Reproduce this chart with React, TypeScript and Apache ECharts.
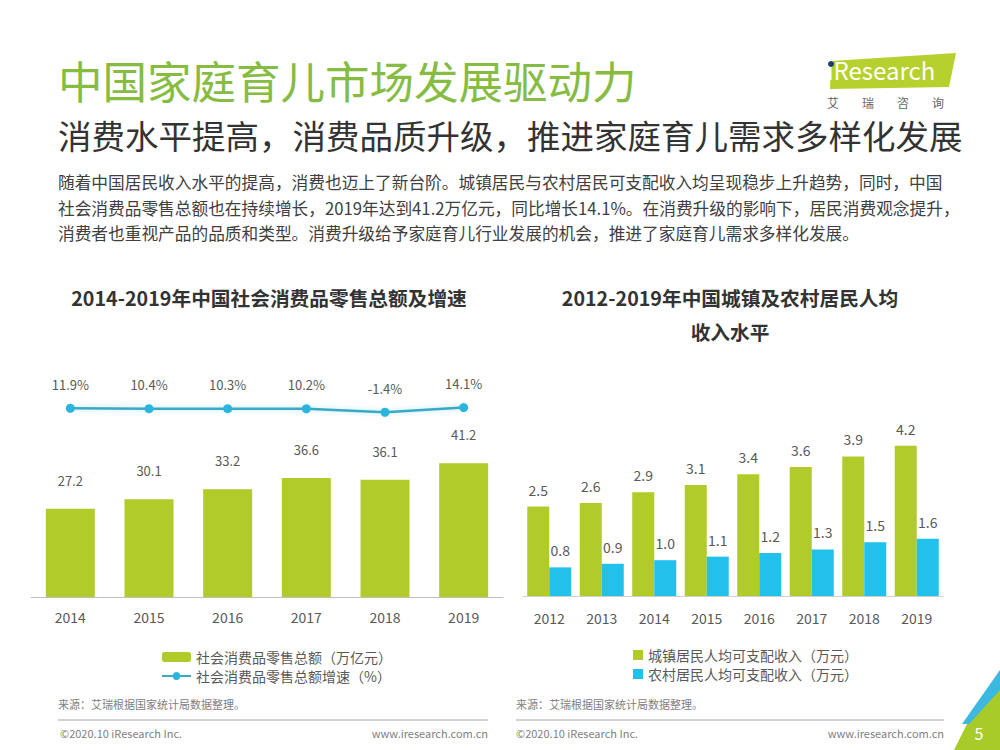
import React, { useEffect, useRef } from "react";
import * as echarts from "echarts";

const leftYears = ["2014", "2015", "2016", "2017", "2018", "2019"];
const retailTotal = [27.2, 30.1, 33.2, 36.6, 36.1, 41.2];
const retailGrowth = [11.9, 10.4, 10.3, 10.2, -1.4, 14.1];

const rightYears = ["2012", "2013", "2014", "2015", "2016", "2017", "2018", "2019"];
const urbanIncome = [2.5, 2.6, 2.9, 3.1, 3.4, 3.6, 3.9, 4.2];
const ruralIncome = [0.8, 0.9, 1.0, 1.1, 1.2, 1.3, 1.5, 1.6];

const seriesNames = [
  "社会消费品零售总额（万亿元）",
  "社会消费品零售总额增速（%）",
  "城镇居民人均可支配收入（万元）",
  "农村居民人均可支配收入（万元）",
];

const paragraph = [
  "随着中国居民收入水平的提高，消费也迈上了新台阶。城镇居民与农村居民可支配收入均呈现稳步上升趋势，同时，中国",
  "社会消费品零售总额也在持续增长，2019年达到41.2万亿元，同比增长14.1%。在消费升级的影响下，居民消费观念提升，",
  "消费者也重视产品的品质和类型。消费升级给予家庭育儿行业发展的机会，推进了家庭育儿需求多样化发展。",
];

const GREEN = "#B1CB2B";
const CYAN = "#22C1EC";
const LINE = "#3AA9C6";
const FONT = "'Noto Sans CJK SC', 'Noto Sans', sans-serif";
const TXT = "#595959";

export default function App() {
  const ref = useRef<HTMLDivElement>(null);
  useEffect(() => {
    if (!ref.current) return;
    const chart = echarts.init(ref.current, null, { renderer: "svg" });
    const graphic: any[] = [
      {
        type: "text", left: 58, top: 57,
        style: { text: "中国家庭育儿市场发展驱动力", font: `44.5px ${FONT}`, fill: "#86BC42" },
      },
      {
        type: "text", left: 58, top: 118,
        style: { text: "消费水平提高，消费品质升级，推进家庭育儿需求多样化发展", font: `33.5px ${FONT}`, fill: "#333333" },
      },
      ...paragraph.map((t, i) => ({
        type: "text", left: 58, top: 174 + i * 25.5,
        style: { text: t, font: `16.7px ${FONT}`, fill: "#404040" },
      })),
      // logo
      {
        type: "polygon",
        shape: { points: [[831, 61], [956, 53], [949, 87], [830, 89]] },
        style: { fill: "#B6D12E" },
      },
      {
        type: "text", left: 827, top: 57,
        style: { text: "iResearch", font: `24px ${FONT}`, fill: "#ffffff" },
      },
      { type: "circle", shape: { cx: 831, cy: 64, r: 3 }, style: { fill: "#1F3B6E" } },
      ...["艾", "瑞", "咨", "询"].map((c, i) => ({
        type: "text", left: 827 + i * 35, top: 96,
        style: { text: c, font: `12px ${FONT}`, fill: "#666666" },
      })),
      // chart titles
      {
        type: "text", x: 269, y: 297,
        style: { text: "2014-2019年中国社会消费品零售总额及增速", font: `bold 19.7px ${FONT}`, fill: "#333333", align: "center", verticalAlign: "middle" },
      },
      {
        type: "text", x: 730, y: 297,
        style: { text: "2012-2019年中国城镇及农村居民人均", font: `bold 19.7px ${FONT}`, fill: "#333333", align: "center", verticalAlign: "middle" },
      },
      {
        type: "text", x: 730, y: 331,
        style: { text: "收入水平", font: `bold 19.7px ${FONT}`, fill: "#333333", align: "center", verticalAlign: "middle" },
      },
      // sources
      {
        type: "text", x: 58, y: 704,
        style: { text: "来源：艾瑞根据国家统计局数据整理。", font: `11px ${FONT}`, fill: "#808080", verticalAlign: "middle" },
      },
      {
        type: "text", x: 516, y: 704,
        style: { text: "来源：艾瑞根据国家统计局数据整理。", font: `11px ${FONT}`, fill: "#808080", verticalAlign: "middle" },
      },
      { type: "line", shape: { x1: 58, y1: 720, x2: 488, y2: 720 }, style: { stroke: "#A6A6A6", lineWidth: 1 } },
      { type: "line", shape: { x1: 516, y1: 720, x2: 944, y2: 720 }, style: { stroke: "#A6A6A6", lineWidth: 1 } },
      {
        type: "text", x: 60, y: 733,
        style: { text: "©2020.10 iResearch Inc.", font: `11px ${FONT}`, fill: "#808080", verticalAlign: "middle" },
      },
      {
        type: "text", x: 488, y: 733,
        style: { text: "www.iresearch.com.cn", font: `11px ${FONT}`, fill: "#808080", align: "right", verticalAlign: "middle" },
      },
      {
        type: "text", x: 516, y: 733,
        style: { text: "©2020.10 iResearch Inc.", font: `11px ${FONT}`, fill: "#808080", verticalAlign: "middle" },
      },
      {
        type: "text", x: 944, y: 733,
        style: { text: "www.iresearch.com.cn", font: `11px ${FONT}`, fill: "#808080", align: "right", verticalAlign: "middle" },
      },
      // corner
      {
        type: "polygon",
        shape: { points: [[1000, 688], [1000, 750], [954, 750], [968, 722]] },
        style: { fill: "#A9CB2A" },
      },
      {
        type: "polygon",
        shape: { points: [[1000, 670], [1000, 690], [969, 724], [962, 724]] },
        style: { fill: "#3DB8E0" },
      },
      {
        type: "text", x: 979, y: 733,
        style: { text: "5", font: `16px ${FONT}`, fill: "#ffffff", align: "center", verticalAlign: "middle" },
      },
    ];

    const option: any = {
      animation: false,
      backgroundColor: "#ffffff",
      textStyle: { fontFamily: FONT },
      grid: [
        { left: 31, right: 497, top: 380, bottom: 153 },
        { left: 523, right: 57, top: 417, bottom: 154 },
      ],
      xAxis: [
        {
          type: "category", gridIndex: 0, data: leftYears,
          axisLine: { lineStyle: { color: "#BFBFBF", width: 1 } },
          axisTick: { show: false },
          axisLabel: { color: TXT, fontSize: 14, margin: 13, fontFamily: FONT },
        },
        {
          type: "category", gridIndex: 1, data: rightYears,
          axisLine: { lineStyle: { color: "#D0D0D0", width: 1 } },
          axisTick: { show: false },
          axisLabel: { color: TXT, fontSize: 14, margin: 15, fontFamily: FONT },
        },
      ],
      yAxis: [
        { type: "value", gridIndex: 0, min: 0, max: 66.8, show: false, splitLine: { show: false } },
        { type: "value", gridIndex: 0, min: -617, max: 106, show: false, splitLine: { show: false } },
        { type: "value", gridIndex: 1, min: 0, max: 5, show: false, splitLine: { show: false } },
      ],
      legend: [
        {
          data: [seriesNames[0], seriesNames[1]],
          orient: "vertical", left: 156, top: 645, itemGap: 5,
          itemWidth: 29, itemHeight: 10,
          textStyle: { color: TXT, fontSize: 14, fontFamily: FONT },
          selectedMode: false,
        },
        {
          data: [
            { name: seriesNames[2], icon: "rect" },
            { name: seriesNames[3], icon: "rect" },
          ],
          orient: "vertical", left: 628, top: 643, itemGap: 5,
          itemWidth: 10, itemHeight: 10,
          textStyle: { color: TXT, fontSize: 14, fontFamily: FONT },
          selectedMode: false,
        },
      ],
      series: [
        {
          name: seriesNames[0], type: "bar", xAxisIndex: 0, yAxisIndex: 0,
          data: retailTotal, barWidth: 49,
          itemStyle: { color: GREEN },
          label: { show: true, position: "top", distance: 22, color: TXT, fontSize: 13, fontFamily: FONT },
        },
        {
          name: seriesNames[1], type: "line", xAxisIndex: 0, yAxisIndex: 1,
          data: retailGrowth, symbol: "circle", symbolSize: 9,
          itemStyle: { color: "#2BB5DC" },
          lineStyle: { color: LINE, width: 2.5, shadowColor: "rgba(43,181,220,0.35)", shadowBlur: 5 },
          label: { show: true, position: "top", distance: 13, color: TXT, fontSize: 13, fontFamily: FONT, formatter: "{c}%" },
        },
        {
          name: seriesNames[2], type: "bar", xAxisIndex: 1, yAxisIndex: 2,
          data: urbanIncome, barWidth: 22, barGap: "0%",
          itemStyle: { color: GREEN },
          label: { show: true, position: "top", distance: 10, color: TXT, fontSize: 14, fontFamily: FONT, formatter: (p: any) => p.value.toFixed(1) },
        },
        {
          name: seriesNames[3], type: "bar", xAxisIndex: 1, yAxisIndex: 2,
          data: ruralIncome, barWidth: 22, barGap: "0%",
          itemStyle: { color: CYAN },
          label: { show: true, position: "top", distance: 10, color: TXT, fontSize: 14, fontFamily: FONT, formatter: (p: any) => p.value.toFixed(1) },
        },
      ],
      graphic,
    };
    chart.setOption(option);
    return () => chart.dispose();
  }, []);
  return (
    <div
      ref={ref}
      style={{ position: "absolute", left: 0, top: 0, width: 1000, height: 750 }}
    />
  );
}
